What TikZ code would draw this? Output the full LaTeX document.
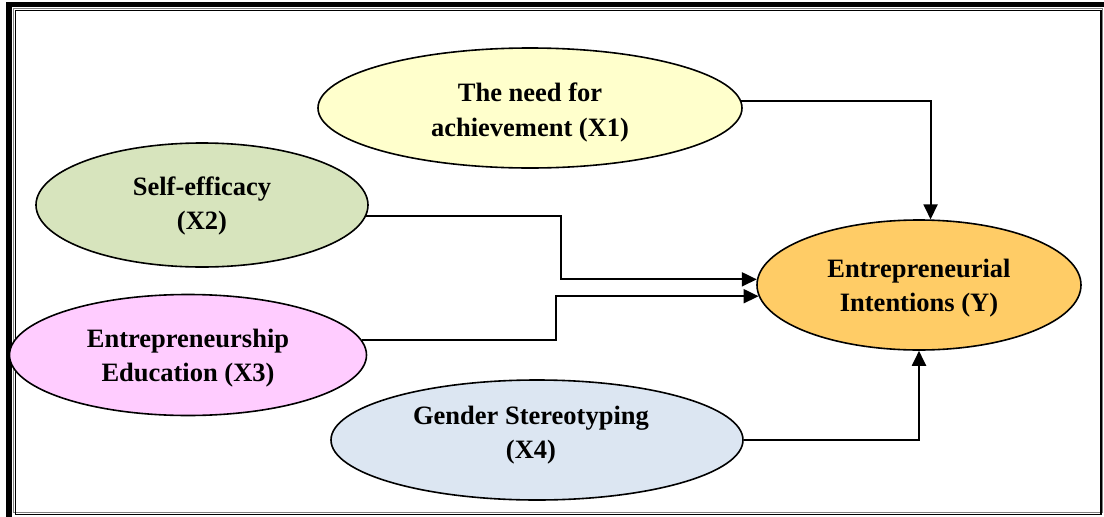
\documentclass[tikz,border=0pt]{standalone}
\usepackage{fontspec}
\setmainfont{Liberation Serif}
\usetikzlibrary{shapes.geometric,arrows.meta}
\definecolor{cX1}{HTML}{FFFFCC}
\definecolor{cX2}{HTML}{D7E4BD}
\definecolor{cX3}{HTML}{FFCCFF}
\definecolor{cX4}{HTML}{DCE6F2}
\definecolor{cY}{HTML}{FFCC66}
\tikzset{
  ell/.style={ellipse, draw=black, line width=1.6pt, inner sep=0pt},
  lbl/.style={align=center, inner sep=0pt, font=\bfseries\fontsize{26.5}{34.5}\selectfont},
  conn/.style={line width=2pt, -{Triangle[length=15pt,width=14pt]}},
}
\begin{document}
\begin{tikzpicture}[x=1pt,y=-1pt]
\useasboundingbox (0,0) rectangle (1104,517);
% frame
\fill[black] (6,2) rectangle (1104,7);
\fill[black] (6,2) rectangle (12,517);
\draw[gray, line width=1pt] (13.5,8.5) rectangle (1102.5,512.5);
\draw[black, line width=1.2pt] (15.5,10.5) rectangle (1101,514.5);
% ellipses
\node[ell, fill=cX1, minimum width=424pt, minimum height=120pt] (x1) at (530,108) {};
\node[ell, fill=cX2, minimum width=332pt, minimum height=124pt] (x2) at (202,205) {};
\node[ell, fill=cX3, minimum width=357pt, minimum height=121pt] (x3) at (188,355) {};
\node[ell, fill=cX4, minimum width=412pt, minimum height=120pt] (x4) at (537,440) {};
\node[ell, fill=cY, minimum width=324pt, minimum height=130pt] (y) at (919,285) {};
% labels
\node[lbl] (x1t) at (530,112.5) {The need for\\achievement (X1)};
\node[lbl] (x2t) at (202,206) {Self-efficacy\\(X2)};
\node[lbl] (x3t) at (188,358) {Entrepreneurship\\Education (X3)};
\node[lbl] (x4t) at (531,435) {Gender Stereotyping\\(X4)};
\node[lbl] (yt) at (919,288) {Entrepreneurial\\Intentions (Y)};
% connectors
\draw[conn] (x1.2) -| (y.80);
\draw[conn] (x2.-4) -- ++(195,0) |- (y.178);
\draw[conn] (x3.5) -- ++(194,0) |- (y.184);
\draw[conn] (x4.east) -| (y.south);
\end{tikzpicture}
\end{document}
